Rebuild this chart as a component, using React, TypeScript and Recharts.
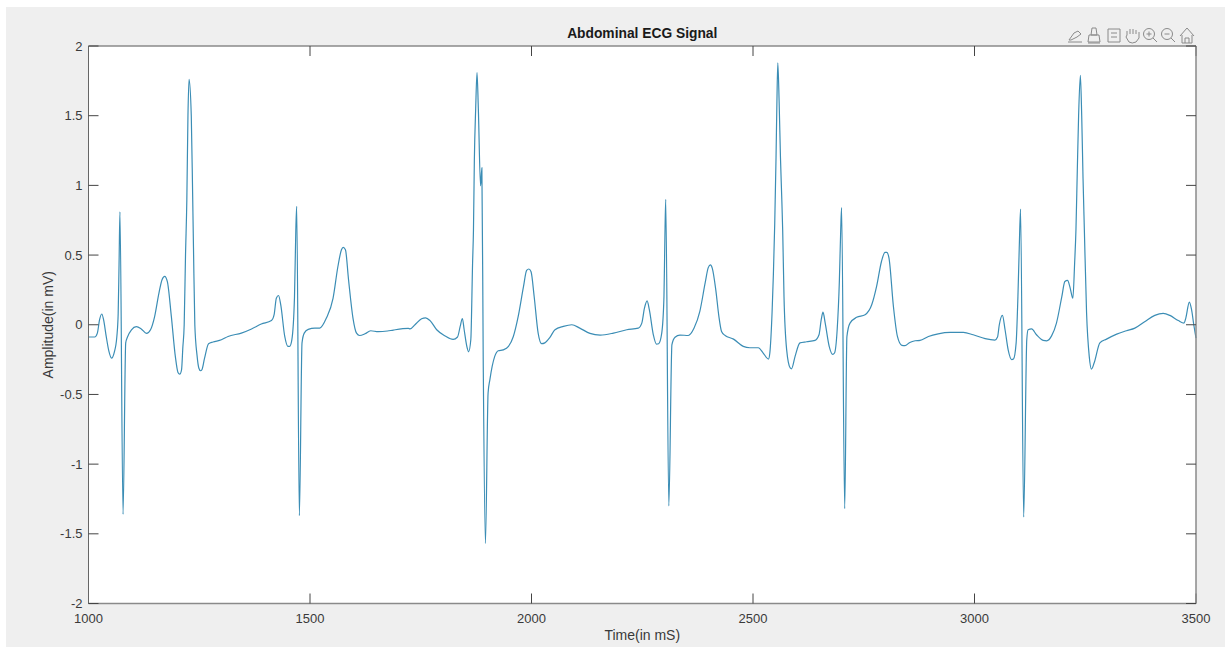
import { LineChart, Line, XAxis, YAxis, CartesianGrid } from 'recharts';

const timeMs = [
  1000, 1014, 1020, 1025, 1030, 1034, 1040, 1046, 1052, 1058, 1064, 1067, 1069, 1071, 1078, 1084, 1088, 1097, 1108, 1119,
  1131, 1140, 1149, 1159, 1166, 1172, 1178, 1187, 1196, 1202, 1206, 1210, 1213, 1216, 1219, 1222, 1224.5, 1227, 1232, 1235, 1237, 1240, 1245, 1249, 1253, 1256,
  1262, 1271, 1281, 1300, 1315, 1345, 1368, 1390, 1413, 1419, 1424, 1429, 1434, 1443, 1450, 1454, 1459, 1465, 1468, 1470,
  1476, 1482, 1487, 1496, 1511, 1522, 1537, 1552, 1563, 1571, 1575, 1580, 1587, 1597, 1605, 1612, 1624, 1637, 1654, 1675,
  1688, 1722, 1726, 1737, 1752, 1761, 1771, 1786, 1805, 1823, 1833, 1839, 1844, 1848, 1854, 1858, 1863, 1867, 1869, 1871, 1874, 1877, 1880,
  1885, 1888, 1891, 1896, 1902, 1906, 1917, 1925, 1936, 1948, 1959, 1970, 1982, 1989, 1994, 1999, 2006, 2015, 2023, 2030,
  2042, 2053, 2072, 2091, 2109, 2132, 2155, 2185, 2215, 2241, 2249, 2255, 2261, 2266, 2275, 2282, 2287, 2294, 2299, 2301,
  2303, 2310, 2317, 2324, 2335, 2354, 2367, 2380, 2392, 2399, 2404, 2408, 2416, 2423, 2429, 2437, 2456, 2478, 2493, 2512,
  2523, 2535, 2538, 2543, 2546, 2549, 2552, 2554, 2556, 2559, 2562, 2565, 2567, 2570, 2576, 2584, 2587, 2595, 2606, 2621, 2640, 2649, 2654, 2658, 2663,
  2672, 2680, 2684, 2690, 2695, 2698, 2700, 2707, 2712, 2719, 2734, 2753, 2768, 2779, 2790, 2798, 2802, 2807, 2817, 2826,
  2836, 2843, 2854, 2866, 2877, 2896, 2918, 2945, 2975, 2997, 3024, 3046, 3052, 3056, 3063, 3069, 3076, 3084, 3088, 3094,
  3098, 3101, 3104, 3111, 3118, 3121, 3129, 3140, 3155, 3163, 3174, 3185, 3197, 3204, 3210, 3216, 3222, 3226, 3229, 3232, 3235, 3239,
  3242, 3245, 3248, 3253, 3259, 3264, 3270, 3283, 3298, 3321, 3343, 3362, 3385, 3407, 3426, 3441, 3460, 3473, 3477, 3485, 3490, 3495,
  3500,
];

const amplitude = [
  -0.088, -0.088, -0.06, 0.036, 0.077, 0.036, -0.084, -0.19, -0.24, -0.2, -0.084, 0.08, 0.44, 0.81, -1.36, -0.13, -0.088, -0.036, -0.014, -0.03,
  -0.062, -0.036, 0.055, 0.227, 0.323, 0.347, 0.31, 0.06, -0.227, -0.342, -0.354, -0.323, -0.16, 0, 0.5, 0.9, 1.5, 1.76, 1.5, 0.95, 0.55, 0, -0.22, -0.31, -0.33, -0.323,
  -0.24, -0.136, -0.124, -0.108, -0.084, -0.06, -0.03, 0.005, 0.03, 0.072, 0.19, 0.21, 0.143, -0.084, -0.155, -0.155, -0.108, 0.2, 0.68, 0.85,
  -1.37, -0.13, -0.06, -0.033, -0.024, -0.024, 0.048, 0.19, 0.418, 0.538, 0.555, 0.538, 0.323, 0.048, -0.06, -0.077, -0.065, -0.043, -0.05, -0.045,
  -0.038, -0.026, -0.03, 0, 0.043, 0.05, 0.03, -0.036, -0.08, -0.105, -0.088, -0.012, 0.045, -0.036, -0.155, -0.194, -0.108, 0.443, 0.68, 1.18, 1.55, 1.81, 1.55,
  0.997, 1.126, -0.25, -1.57, -0.49, -0.395, -0.227, -0.187, -0.18, -0.155, -0.084, 0.06, 0.275, 0.39, 0.4, 0.38, 0.203, -0.06, -0.136, -0.13,
  -0.088, -0.036, -0.012, 0, -0.024, -0.062, -0.074, -0.06, -0.036, -0.024, 0.012, 0.12, 0.172, 0.108, -0.072, -0.139, -0.136, -0.06, 0.2, 0.6,
  0.9, -1.3, -0.143, -0.09, -0.074, -0.077, -0.024, 0.096, 0.3, 0.41, 0.43, 0.406, 0.25, 0.06, -0.048, -0.077, -0.103, -0.155, -0.165, -0.165,
  -0.203, -0.246, -0.203, 0.084, 0.36, 0.72, 1.2, 1.6, 1.88, 1.6, 1.2, 0.9, 0.68, 0.2, -0.18, -0.31, -0.316, -0.227, -0.13, -0.122, -0.112, -0.072, 0.036, 0.09, 0.012,
  -0.155, -0.213, -0.203, -0.036, 0.32, 0.68, 0.84, -1.32, -0.084, 0.012, 0.053, 0.072, 0.143, 0.275, 0.454, 0.52, 0.52, 0.478, 0.13, -0.084,
  -0.148, -0.15, -0.127, -0.115, -0.112, -0.084, -0.065, -0.055, -0.055, -0.072, -0.1, -0.11, -0.088, 0, 0.067, -0.036, -0.18, -0.25, -0.246, -0.13,
  0.2, 0.55, 0.83, -1.38, -0.108, -0.036, -0.03, -0.072, -0.112, -0.115, -0.08, 0.012, 0.2, 0.31, 0.318, 0.263, 0.19, 0.44, 0.68, 1.1, 1.5, 1.79,
  1.5, 1.05, 0.68, 0.084, -0.227, -0.318, -0.275, -0.13, -0.103, -0.067, -0.043, -0.024, 0.024, 0.067, 0.081, 0.067, 0.03, 0.012, 0.048, 0.163, 0.108, 0,
  -0.096,
];

const xTicks = [1000, 1500, 2000, 2500, 3000, 3500];
const yTicks = [-2, -1.5, -1, -0.5, 0, 0.5, 1, 1.5, 2];

const chartTitle = 'Abdominal ECG Signal';
const xTitle = 'Time(in mS)';
const yTitle = 'Amplitude(in mV)';

const data = timeMs.map((t, i) => ({ t, v: amplitude[i] }));

const font = '"Liberation Sans", Arial, sans-serif';
const frame = { stroke: '#8a8a8a', strokeWidth: 1.5 };
const tickText = { fontSize: 13, fontFamily: font, fill: '#3a3a3a' };
const titleText = { fontSize: 14, fontFamily: font, fill: '#3a3a3a' };

function Toolbar() {
  const s = { fill: 'none', stroke: '#8a8a8a', strokeWidth: 1 };
  return (
    <svg width={140} height={24} style={{ position: 'absolute', left: 1062, top: 24 }}>
      <g {...s}>
        {/* edit */}
        <path d="M7 16 L12 9 L16 7 L19 10 L15 13 L9 16 Z M6 18 H20" />
        {/* brush */}
        <path d="M30 4 H34 L35 11 H29 Z M27 11 H37 L38 18 H26 Z M26 19 H38" />
        {/* legend */}
        <path d="M46 5 H58 V18 H46 Z M49 9 H55 M49 13 H55" />
        {/* hand */}
        <path d="M65 11 V7 M68 10 V5 M71 10 V5 M74 10 V6 M77 11 V8 M65 11 L64 13 L67 18 Q70 20 74 18 L77 14 V11" />
        {/* zoom in */}
        <circle cx={87} cy={10} r={5.5} />
        <path d="M91 14 L95 18 M84.5 10 H89.5 M87 7.5 V12.5" />
        {/* zoom out */}
        <circle cx={105} cy={10} r={5.5} />
        <path d="M109 14 L113 18 M102.5 10 H107.5" />
        {/* home */}
        <path d="M118 12 L125 4 L132 12 M120 11 V19 H130 V11 M123 19 V14 H127 V19" />
      </g>
    </svg>
  );
}

export default function App() {
  return (
    <div style={{ position: 'absolute', left: 0, top: 0, width: 1225, height: 647, background: '#fff', overflow: 'hidden' }}>
      <div style={{ position: 'absolute', left: 6, top: 7, width: 1219, height: 640, background: '#efefef' }} />
      <div style={{ position: 'absolute', left: 0, top: 0 }}>
        <LineChart width={1225} height={647} data={data} margin={{ top: 0, right: 0, bottom: 0, left: 0 }}>
          <CartesianGrid horizontal={false} vertical={false} fill="#fff" />
          <XAxis
            dataKey="t"
            type="number"
            domain={[1000, 3500]}
            ticks={xTicks}
            interval={0}
            height={43.5}
            tickSize={-10}
            tickMargin={20}
            tick={tickText}
            axisLine={frame}
            tickLine={{ stroke: '#444' }}
            label={{ value: xTitle, position: 'insideBottom', offset: 7, style: titleText }}
          />
          <XAxis
            xAxisId="top"
            dataKey="t"
            orientation="top"
            type="number"
            domain={[1000, 3500]}
            ticks={xTicks}
            interval={0}
            height={46}
            tickSize={-10}
            tickFormatter={() => ' '}
            axisLine={frame}
            tickLine={{ stroke: '#444' }}
            label={{ value: chartTitle, position: 'insideTop', offset: 28, style: { fontSize: 13.8, fontWeight: 700, fontFamily: font, fill: '#1a1a1a' } }}
          />
          <YAxis
            type="number"
            domain={[-2, 2]}
            ticks={yTicks}
            interval={0}
            width={88.5}
            tickSize={-10}
            tickMargin={16}
            tick={tickText}
            axisLine={{ stroke: '#666' }}
            tickLine={{ stroke: '#444' }}
            label={{ value: yTitle, angle: -90, position: 'insideLeft', offset: 48, style: { textAnchor: 'middle', ...titleText } }}
          />
          <YAxis
            yAxisId="right"
            orientation="right"
            type="number"
            domain={[-2, 2]}
            ticks={yTicks}
            interval={0}
            width={29}
            tickSize={-10}
            tickFormatter={() => ' '}
            axisLine={frame}
            tickLine={{ stroke: '#444' }}
          />
          <Line type="monotone" dataKey="v" stroke="#3b8db5" strokeWidth={1.2} dot={false} isAnimationActive={false} />
          {/* keeps the top and right axes tied to the data so their ticks draw */}
          <Line xAxisId="top" yAxisId="right" type="monotone" dataKey="v" stroke="none" dot={false} activeDot={false} isAnimationActive={false} />
        </LineChart>
      </div>
      <Toolbar />
    </div>
  );
}
